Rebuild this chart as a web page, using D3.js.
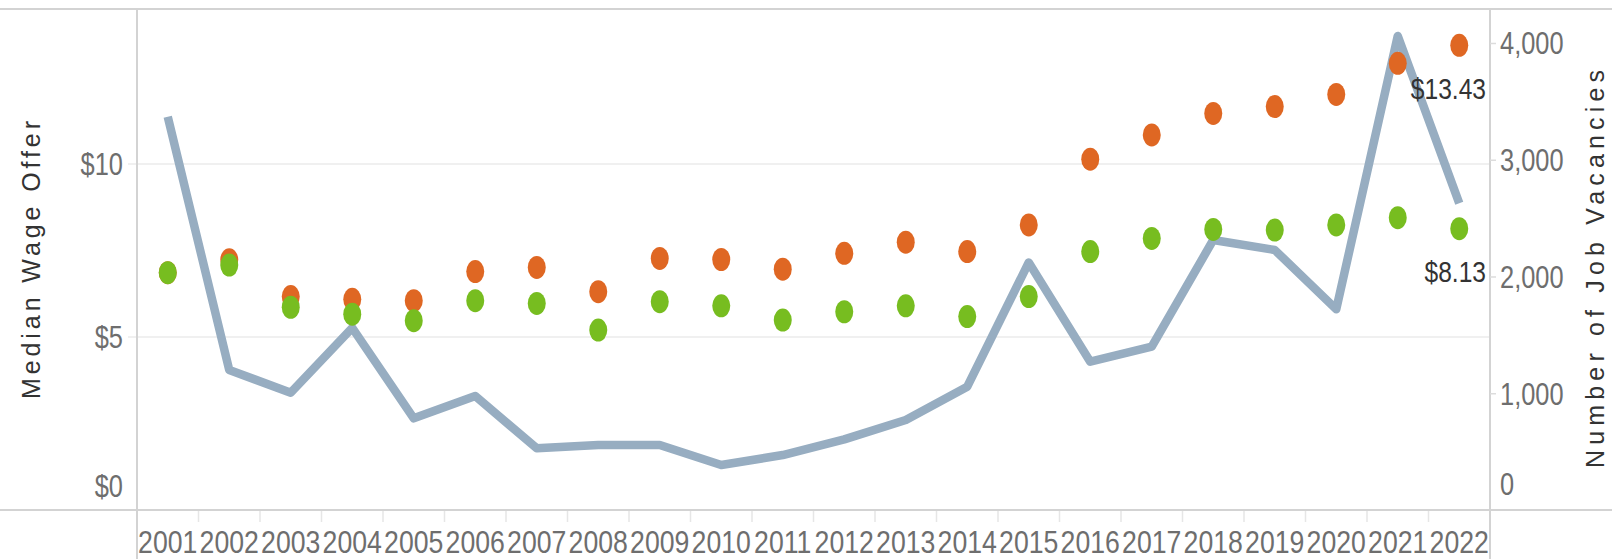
<!DOCTYPE html>
<html>
<head>
<meta charset="utf-8">
<script src="https://cdn.jsdelivr.net/npm/d3@7"></script>
<style>
  body { margin: 0; background: #fff; }
  svg { display: block; }
  .tick-label { font-family: "Liberation Sans", Arial, sans-serif; font-size: 31px; fill: #6e6e6e; }
  .axis-title { font-family: "Liberation Sans", Arial, sans-serif; font-size: 25px; fill: #333; }
  .mark-label { font-family: "Liberation Sans", Arial, sans-serif; font-size: 30px; fill: #333; }
</style>
</head>
<body>
<div id="chart"></div>
<script>
// Years on the x axis
var years = ["2001","2002","2003","2004","2005","2006","2007","2008","2009","2010","2011",
             "2012","2013","2014","2015","2016","2017","2018","2019","2020","2021","2022"];

// Median wage offer, orange dots (upper) and green dots (lower)
var upperWage = [6.86, 7.23, 6.17, 6.09, 6.05, 6.89, 7.01, 6.31, 7.27, 7.24, 6.96,
                 7.42, 7.74, 7.47, 8.24, 10.14, 10.84, 11.46, 11.66, 12.01, 12.91, 13.43];
var lowerWage = [6.86, 7.08, 5.86, 5.66, 5.47, 6.05, 5.97, 5.20, 6.02, 5.90, 5.49,
                 5.73, 5.90, 5.59, 6.17, 7.47, 7.85, 8.11, 8.09, 8.24, 8.45, 8.13];

// Number of job vacancies (line)
var vacancies = [3369, 1199, 1005, 1560, 785, 976, 528, 557, 557, 385, 471,
                 605, 771, 1056, 2120, 1270, 1399, 2313, 2227, 1719, 4060, 2627];

var wageTicks = [0, 5, 10];
var vacancyTicks = [0, 1000, 2000, 3000, 4000];

var width = 1612, height = 559;
var plot = {left: 137, right: 1490, top: 9, bottom: 510};
var narrow = 0.82; // horizontal squeeze for the condensed look of the labels

var svg = d3.select("#chart").append("svg")
    .attr("width", width)
    .attr("height", height);

var x = d3.scaleBand()
    .domain(years)
    .range([plot.left, plot.right])
    .padding(0);

// left axis: $0 at the baseline, $10 at y=164
var yWage = d3.scaleLinear()
    .domain([0, 14.48])
    .range([plot.bottom, plot.top]);

// right axis: 0 at baseline, 4,000 at y=43
var yVac = d3.scaleLinear()
    .domain([0, 4291])
    .range([plot.bottom, plot.top]);

// Gridlines (left axis only, $0 is the axis line)
svg.append("g").selectAll("line")
    .data(wageTicks.filter(function(d) { return d > 0; }))
    .enter().append("line")
    .attr("x1", 128)
    .attr("x2", plot.right)
    .attr("y1", function(d) { return yWage(d); })
    .attr("y2", function(d) { return yWage(d); })
    .attr("stroke", "#ebebeb")
    .attr("stroke-width", 1.5);

// Band separators under the x axis
svg.append("g").selectAll("line")
    .data(years.slice(1))
    .enter().append("line")
    .attr("x1", function(d) { return x(d); })
    .attr("x2", function(d) { return x(d); })
    .attr("y1", plot.bottom)
    .attr("y2", plot.bottom + 12)
    .attr("stroke", "#e6e6e6")
    .attr("stroke-width", 1.5);

// Frame lines
var frame = svg.append("g").attr("stroke", "#d3d3d3").attr("stroke-width", 2);
frame.append("line").attr("x1", 0).attr("x2", width).attr("y1", plot.top).attr("y2", plot.top);
frame.append("line").attr("x1", 0).attr("x2", width).attr("y1", plot.bottom).attr("y2", plot.bottom);
frame.append("line").attr("x1", plot.left).attr("x2", plot.left).attr("y1", plot.top).attr("y2", height);
frame.append("line").attr("x1", plot.right).attr("x2", plot.right).attr("y1", plot.top).attr("y2", height);

// squeeze a text horizontally around its own x position
function squeeze(sel, k) {
    k = k || narrow;
    sel.each(function() {
        var t = d3.select(this);
        var tx = +t.attr("x") || 0;
        t.attr("transform", "translate(" + tx + ",0) scale(" + k + ",1)").attr("x", 0);
    });
}

// Left axis
var leftAxis = svg.append("g")
    .attr("transform", "translate(" + plot.left + ",0)")
    .call(d3.axisLeft(yWage).tickValues(wageTicks).tickSize(0).tickPadding(14)
        .tickFormat(function(d) { return "$" + d; }));
leftAxis.select(".domain").remove();
leftAxis.selectAll("text")
    .attr("class", "tick-label")
    .attr("fill", null)
    .attr("dy", function(d) { return d === 0 ? "-0.45em" : "0.35em"; })
    .call(squeeze);

// Right axis
var rightAxis = svg.append("g")
    .attr("transform", "translate(" + plot.right + ",0)")
    .call(d3.axisRight(yVac).tickValues(vacancyTicks).tickSize(6).tickPadding(4)
        .tickFormat(d3.format(",")));
rightAxis.select(".domain").remove();
rightAxis.selectAll(".tick line")
    .attr("stroke", "#dcdcdc")
    .attr("stroke-width", 1.5)
    .attr("display", function(d) { return d === 0 ? "none" : null; });
rightAxis.selectAll("text")
    .attr("class", "tick-label")
    .attr("fill", null)
    .attr("dy", function(d) { return d === 0 ? "-0.5em" : "0.35em"; })
    .call(squeeze);

// Bottom axis (year labels)
var bottomAxis = svg.append("g")
    .attr("transform", "translate(0," + plot.bottom + ")")
    .call(d3.axisBottom(x).tickSize(0).tickPadding(21));
bottomAxis.select(".domain").remove();
bottomAxis.selectAll("text")
    .attr("class", "tick-label")
    .attr("fill", null)
    .call(squeeze, 0.86);

// Vacancies line
var line = d3.line()
    .x(function(d, i) { return x(years[i]) + x.bandwidth() / 2; })
    .y(function(d) { return yVac(d); });

svg.append("path")
    .datum(vacancies)
    .attr("d", line)
    .attr("fill", "none")
    .attr("stroke", "#97adc1")
    .attr("stroke-width", 8.5)
    .attr("stroke-linejoin", "round");

// Wage dots: orange first, green drawn over it
function drawDots(values, color) {
    svg.append("g").selectAll("ellipse")
        .data(values)
        .enter().append("ellipse")
        .attr("cx", function(d, i) { return x(years[i]) + x.bandwidth() / 2; })
        .attr("cy", function(d) { return yWage(d); })
        .attr("rx", 9)
        .attr("ry", 11.5)
        .attr("fill", color);
}
drawDots(upperWage, "#df6723");
drawDots(lowerWage, "#77bd20");

// Labels on the last marks
var last = years.length - 1;
[upperWage[last], lowerWage[last]].forEach(function(v) {
    svg.append("text")
        .attr("class", "mark-label")
        .attr("transform", "translate(" + (plot.right - 4) + "," + (yWage(v) + 43) + ") scale(" + narrow + ",1)")
        .attr("text-anchor", "end")
        .attr("dy", "0.35em")
        .text("$" + v.toFixed(2));
});

// Axis titles
svg.append("text")
    .attr("class", "axis-title")
    .attr("transform", "translate(40,260) rotate(-90)")
    .attr("text-anchor", "middle")
    .attr("textLength", 278)
    .attr("lengthAdjust", "spacing")
    .text("Median Wage Offer");

svg.append("text")
    .attr("class", "axis-title")
    .attr("transform", "translate(1604,269) rotate(-90)")
    .attr("text-anchor", "middle")
    .attr("textLength", 398)
    .attr("lengthAdjust", "spacing")
    .text("Number of Job Vacancies");
</script>
</body>
</html>
